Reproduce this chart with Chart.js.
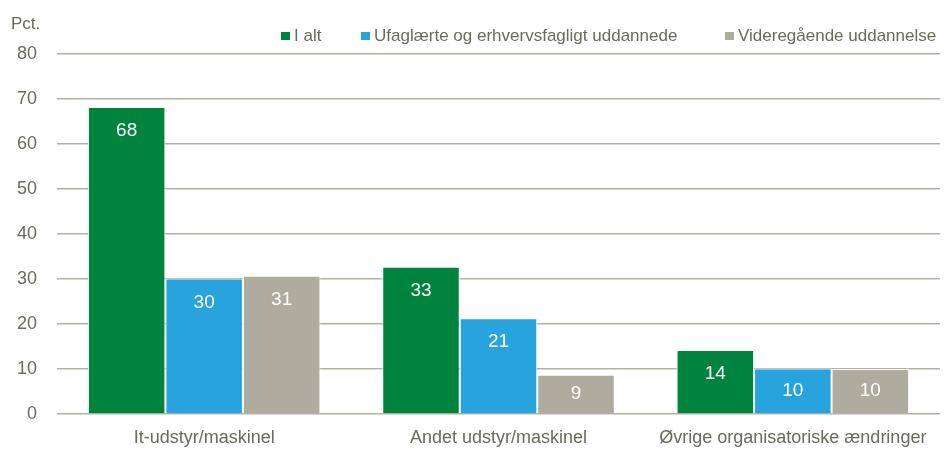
<!DOCTYPE html>
<html>
<head>
<meta charset="utf-8">
<script src="https://cdn.jsdelivr.net/npm/chart.js@4"></script>
<style>
html,body{margin:0;padding:0;background:#fff;}
#wrap{width:946px;height:451px;position:relative;}
</style>
</head>
<body>
<div id="wrap"><canvas id="c" width="946" height="451"></canvas></div>
<script>
const categories = ["It-udstyr/maskinel", "Andet udstyr/maskinel", "Øvrige organisatoriske ændringer"];
const seriesNames = ["I alt", "Ufaglærte og erhvervsfagligt uddannede", "Videregående uddannelse"];
const iAlt = [68.2, 32.7, 14.2];
const ufaglaerte = [30.1, 21.3, 10.1];
const videregaaende = [30.7, 8.7, 10.0];
const yTicks = [0, 10, 20, 30, 40, 50, 60, 70, 80];
const yUnit = "Pct.";

const FONT = "'Liberation Sans', Arial, sans-serif";
const textColor = '#6b6a5c';
const colors = ['#00843d', '#27a3de', '#aeac9e'];

const labelPlugin = {
  id: 'barLabels',
  afterDatasetsDraw(chart) {
    const ctx = chart.ctx;
    ctx.save();
    ctx.fillStyle = '#ffffff';
    ctx.font = '19px ' + FONT;
    ctx.textAlign = 'center';
    ctx.textBaseline = 'middle';
    chart.data.datasets.forEach((ds, i) => {
      const meta = chart.getDatasetMeta(i);
      meta.data.forEach((bar, j) => {
        const top = bar.y, bottom = bar.base;
        const y = Math.min(top + 24, (top + bottom) / 2);
        ctx.fillText(String(Math.round(ds.data[j])), bar.x, y);
      });
    });
    ctx.restore();
  }
};

// Unit label and legend (legend entries taken from the datasets)
const legendBoxX = [281, 361, 725];
const headerPlugin = {
  id: 'header',
  afterDraw(chart) {
    const ctx = chart.ctx;
    ctx.save();
    ctx.fillStyle = textColor;
    ctx.font = '17px ' + FONT;
    ctx.textAlign = 'left';
    ctx.textBaseline = 'middle';
    ctx.fillText(yUnit, 11, 24);
    chart.data.datasets.forEach((ds, i) => {
      const x = legendBoxX[i];
      ctx.fillStyle = ds.backgroundColor;
      ctx.fillRect(x, 32, 9, 8);
      ctx.fillStyle = textColor;
      ctx.fillText(ds.label, x + 13, 36);
    });
    ctx.restore();
  }
};

new Chart(document.getElementById('c'), {
  type: 'bar',
  data: {
    labels: categories,
    datasets: [
      { label: seriesNames[0], data: iAlt, backgroundColor: colors[0] },
      { label: seriesNames[1], data: ufaglaerte, backgroundColor: colors[1] },
      { label: seriesNames[2], data: videregaaende, backgroundColor: colors[2] }
    ].map(d => Object.assign(d, { borderColor: '#ffffff', borderWidth: 1, categoryPercentage: 0.79, barPercentage: 1.0 }))
  },
  options: {
    responsive: false,
    animation: false,
    devicePixelRatio: 1,
    layout: { padding: { left: 17, right: 6, top: 54, bottom: 2 } },
    plugins: {
      legend: { display: false },
      tooltip: { enabled: false }
    },
    scales: {
      x: {
        grid: { display: false, drawTicks: false },
        border: { display: false },
        ticks: { color: textColor, font: { family: FONT, size: 18 }, padding: 13, maxRotation: 0, autoSkip: false },
        afterFit(scale) { scale.height = 35; }
      },
      y: {
        min: 0, max: 80,
        afterBuildTicks(axis) { axis.ticks = yTicks.map(v => ({ value: v })); },
        grid: { color: '#b3b1a3', lineWidth: 1.5, drawTicks: false },
        border: { display: false },
        ticks: { color: textColor, font: { family: FONT, size: 18 }, padding: 20 },
        afterFit(scale) { scale.width = 40; }
      }
    }
  },
  plugins: [labelPlugin, headerPlugin]
});
</script>
</body>
</html>
